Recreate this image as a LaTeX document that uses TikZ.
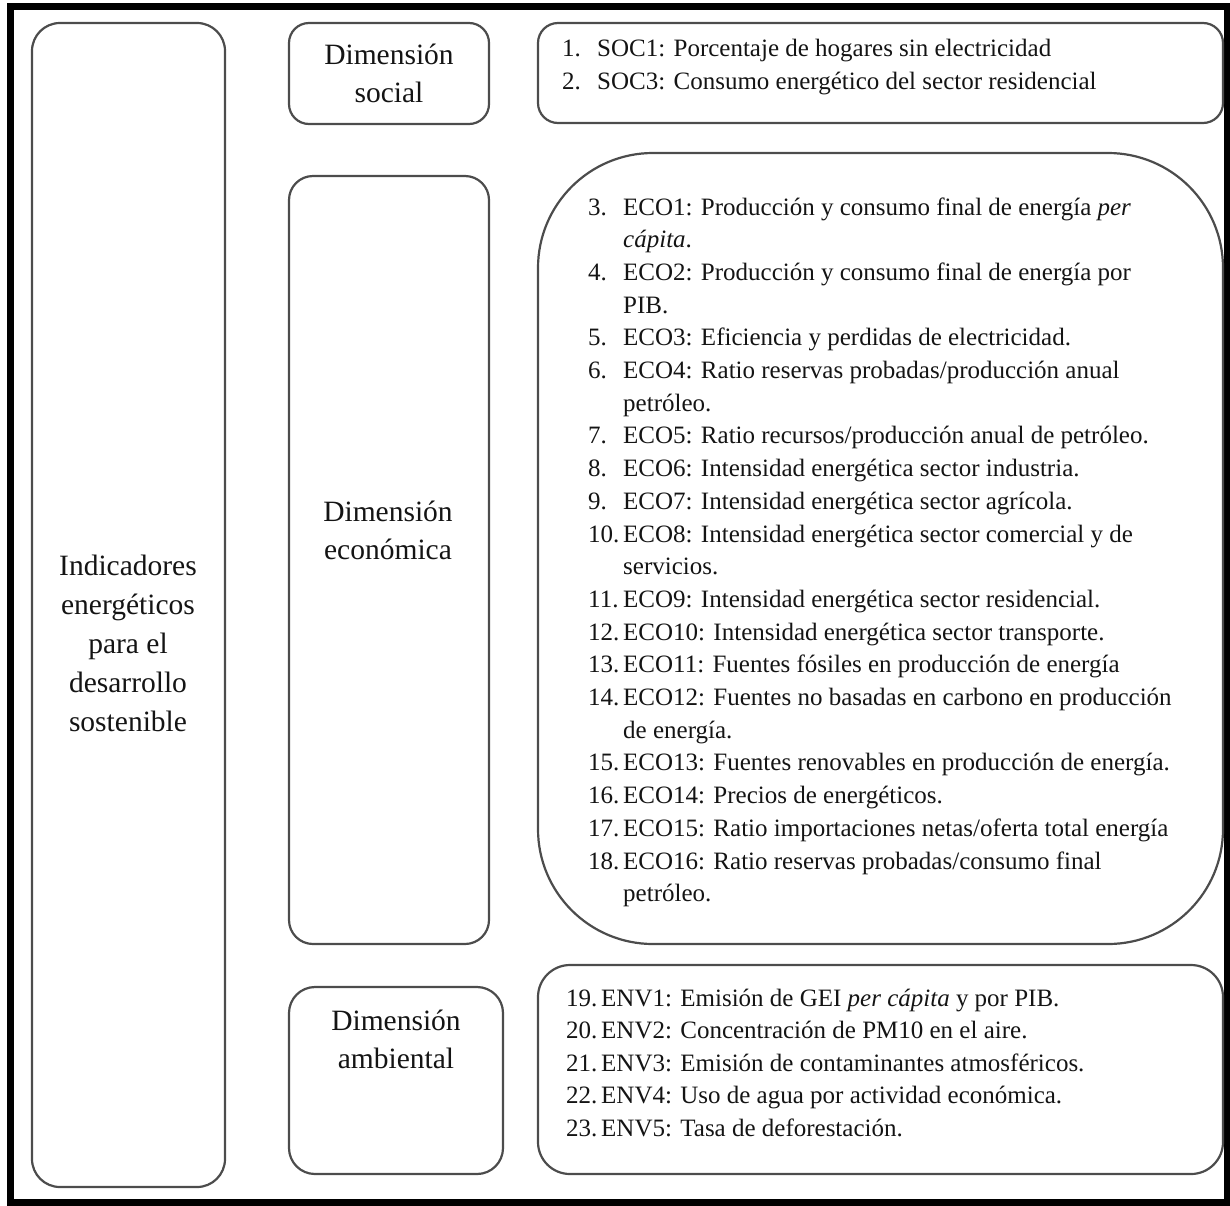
\documentclass[tikz,border=0pt]{standalone}
\usepackage{fontspec}
\setmainfont{Liberation Serif}
\begin{document}
\begin{tikzpicture}[x=1pt,y=-1pt,
  box/.style={draw=black!70,line width=2.2pt},
  lst/.style={anchor=base west,inner sep=0pt,font=\fontsize{25}{30}\selectfont,text=black!92},
  hd/.style={anchor=base,inner sep=0pt,font=\fontsize{29.5}{34}\selectfont,text=black!92}]
\useasboundingbox (0,0) rectangle (1230,1205);
% outer frame
\draw[line width=7pt] (10,6.5) rectangle (1227,1202);
% boxes
\draw[box,rounded corners=28pt] (32,23) rectangle (225,1187);
\draw[box,rounded corners=20pt] (289,23) rectangle (489,124);
\draw[box,rounded corners=20pt] (538,23) rectangle (1223,123);
\draw[box,rounded corners=24pt] (289,176) rectangle (489,944);
\draw[box,rounded corners=115pt] (538,153) rectangle (1223,944);
\draw[box,rounded corners=26pt] (289,987) rectangle (503,1174);
\draw[box,rounded corners=32pt] (538,965) rectangle (1223,1174);
% left title
\node[hd] (t1) at (128,575) {Indicadores};
\node[hd] (t2) at (128,614) {energéticos};
\node[hd] (t3) at (128,653) {para el};
\node[hd] (t4) at (128,692) {desarrollo};
\node[hd] (t5) at (128,731) {sostenible};
% dimension headings
\node[hd] (s1) at (389,64) {Dimensión};
\node[hd] (s2) at (389,102) {social};
\node[hd] (e1) at (388,521) {Dimensión};
\node[hd] (e2) at (388,559) {económica};
\node[hd] (a1) at (396,1030) {Dimensión};
\node[hd] (a2) at (396,1068) {ambiental};
% social list
\node[lst] (n1) at (562,56) {1.};
\node[lst] (i1) at (597,56) {SOC1: Porcentaje de hogares sin electricidad};
\node[lst] (n2) at (562,89) {2.};
\node[lst] (i2) at (597,89) {SOC3: Consumo energético del sector residencial};
% economic list
\node[lst] (n3) at (588,215) {3.};
\node[lst] (i3) at (623,215) {ECO1: Producción y consumo final de energía \textit{per}};
\node[lst] (i3b) at (623,247.7) {\textit{cápita}.};
\node[lst] (n4) at (588,280.4) {4.};
\node[lst] (i4) at (623,280.4) {ECO2: Producción y consumo final de energía por};
\node[lst] (i4b) at (623,313.1) {PIB.};
\node[lst] (n5) at (588,345.8) {5.};
\node[lst] (i5) at (623,345.8) {ECO3: Eficiencia y perdidas de electricidad.};
\node[lst] (n6) at (588,378.5) {6.};
\node[lst] (i6) at (623,378.5) {ECO4: Ratio reservas probadas/producción anual};
\node[lst] (i6b) at (623,411.2) {petróleo.};
\node[lst] (n7) at (588,443.9) {7.};
\node[lst] (i7) at (623,443.9) {ECO5: Ratio recursos/producción anual de petróleo.};
\node[lst] (n8) at (588,476.6) {8.};
\node[lst] (i8) at (623,476.6) {ECO6: Intensidad energética sector industria.};
\node[lst] (n9) at (588,509.3) {9.};
\node[lst] (i9) at (623,509.3) {ECO7: Intensidad energética sector agrícola.};
\node[lst] (n10) at (588,542) {10.};
\node[lst] (i10) at (623,542) {ECO8: Intensidad energética sector comercial y de};
\node[lst] (i10b) at (623,574.7) {servicios.};
\node[lst] (n11) at (588,607.4) {11.};
\node[lst] (i11) at (623,607.4) {ECO9: Intensidad energética sector residencial.};
\node[lst] (n12) at (588,640.1) {12.};
\node[lst] (i12) at (623,640.1) {ECO10: Intensidad energética sector transporte.};
\node[lst] (n13) at (588,672.8) {13.};
\node[lst] (i13) at (623,672.8) {ECO11: Fuentes fósiles en producción de energía};
\node[lst] (n14) at (588,705.5) {14.};
\node[lst] (i14) at (623,705.5) {ECO12: Fuentes no basadas en carbono en producción};
\node[lst] (i14b) at (623,738.2) {de energía.};
\node[lst] (n15) at (588,770.9) {15.};
\node[lst] (i15) at (623,770.9) {ECO13: Fuentes renovables en producción de energía.};
\node[lst] (n16) at (588,803.6) {16.};
\node[lst] (i16) at (623,803.6) {ECO14: Precios de energéticos.};
\node[lst] (n17) at (588,836.3) {17.};
\node[lst] (i17) at (623,836.3) {ECO15: Ratio importaciones netas/oferta total energía};
\node[lst] (n18) at (588,869) {18.};
\node[lst] (i18) at (623,869) {ECO16: Ratio reservas probadas/consumo final};
\node[lst] (i18b) at (623,901.7) {petróleo.};
% environmental list
\node[lst] (n19) at (566,1006) {19.};
\node[lst] (i19) at (601,1006) {ENV1: Emisión de GEI \textit{per cápita} y por PIB.};
\node[lst] (n20) at (566,1038.5) {20.};
\node[lst] (i20) at (601,1038.5) {ENV2: Concentración de PM10 en el aire.};
\node[lst] (n21) at (566,1071) {21.};
\node[lst] (i21) at (601,1071) {ENV3: Emisión de contaminantes atmosféricos.};
\node[lst] (n22) at (566,1103.5) {22.};
\node[lst] (i22) at (601,1103.5) {ENV4: Uso de agua por actividad económica.};
\node[lst] (n23) at (566,1136) {23.};
\node[lst] (i23) at (601,1136) {ENV5: Tasa de deforestación.};
\end{tikzpicture}
\end{document}
